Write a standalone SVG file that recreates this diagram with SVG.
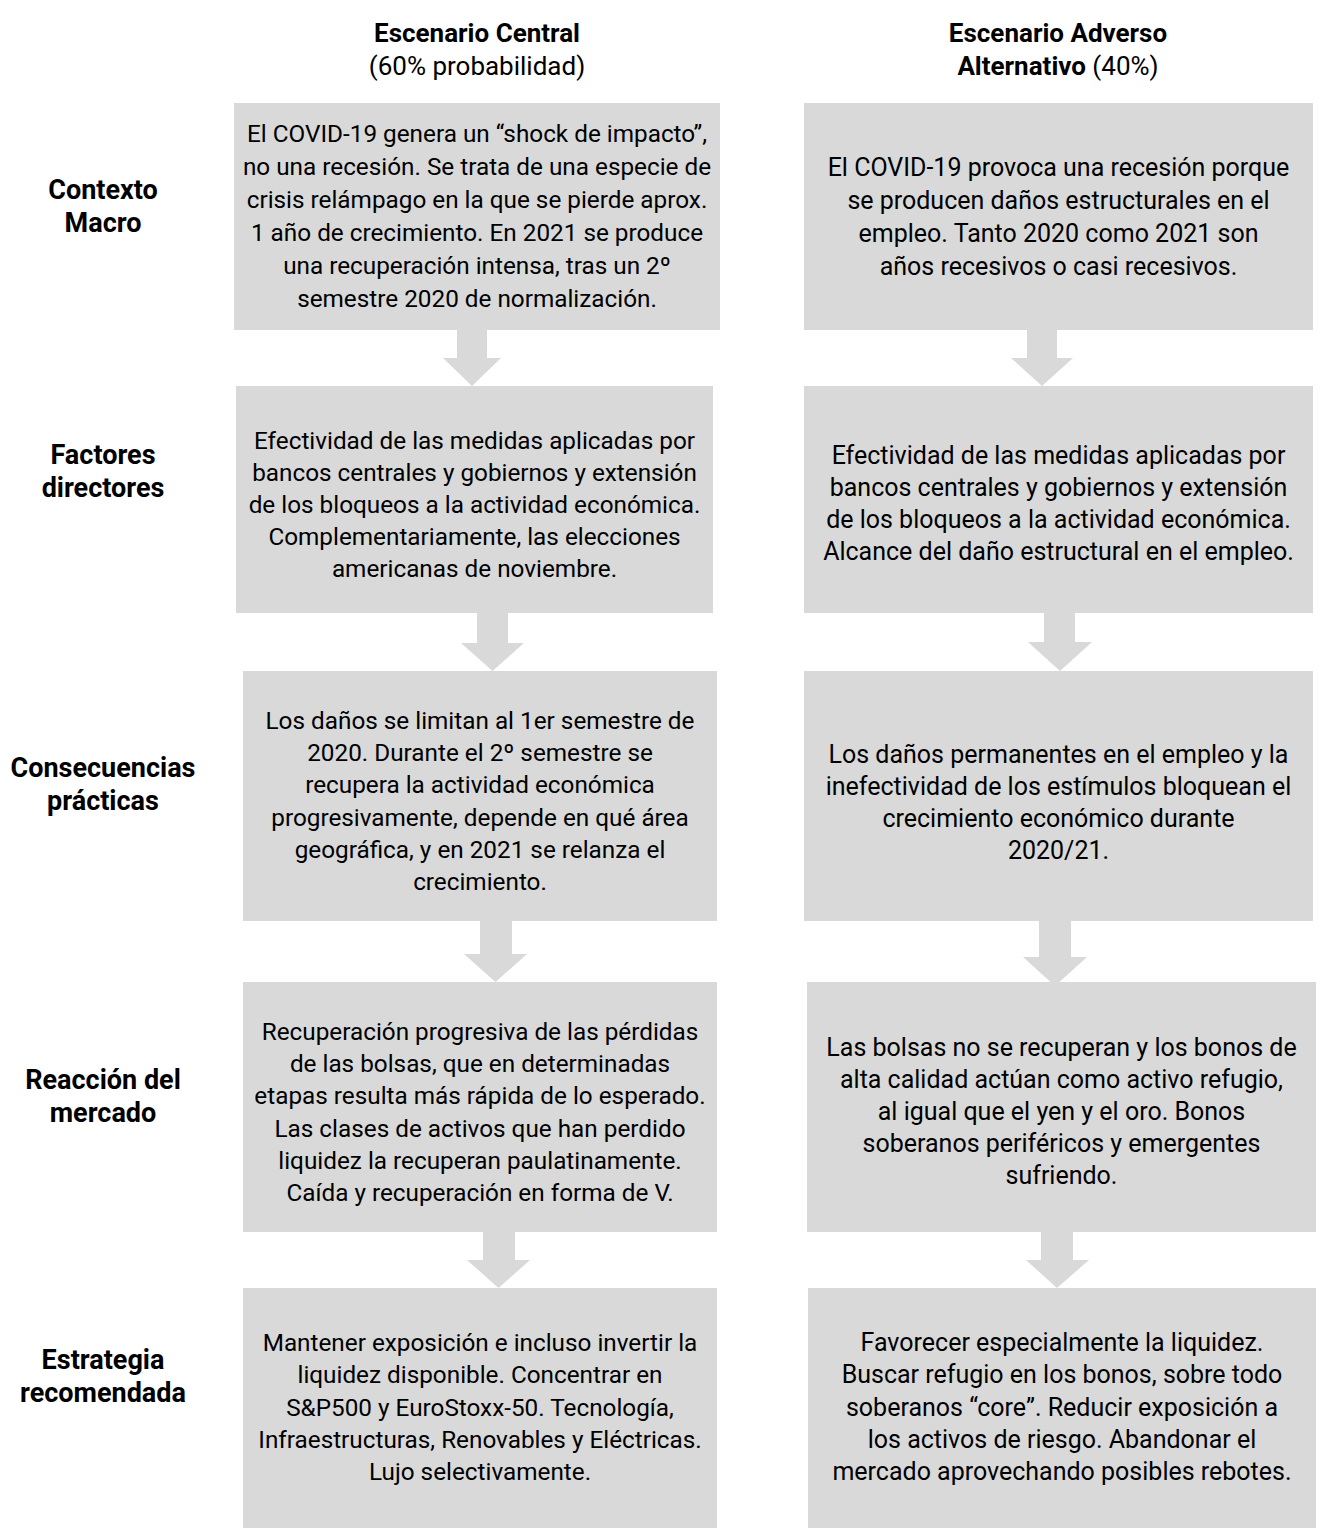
<svg xmlns="http://www.w3.org/2000/svg" width="1327" height="1528" viewBox="0 0 1327 1528">
<style>
.box{fill:#D9D9D9}
.arr{fill:#D9D9D9}
text{font-family:Roboto,"Liberation Sans",sans-serif;fill:#000;text-anchor:middle}
.t{font-size:25px}
.l{font-size:24.3px}
.h{font-size:26px;font-weight:bold}
.hr{font-size:26px}
.lab{font-size:27px;font-weight:bold}
</style>
<rect width="1327" height="1528" fill="#fff"/>
<g id="header-central">
<text class="h" x="477" y="42">Escenario Central</text>
<text class="hr" x="477" y="75">(60% probabilidad)</text>
</g>
<g id="header-adverso">
<text class="h" x="1058" y="42">Escenario Adverso</text>
<text class="hr" x="1058" y="75"><tspan font-weight="bold">Alternativo</tspan> (40%)</text>
</g>
<g id="labels">
<g id="lab-contexto"><text class="lab" x="103" y="199">Contexto</text><text class="lab" x="103" y="232">Macro</text></g>
<g id="lab-factores"><text class="lab" x="103" y="464">Factores</text><text class="lab" x="103" y="497">directores</text></g>
<g id="lab-consecuencias"><text class="lab" x="103" y="777">Consecuencias</text><text class="lab" x="103" y="810">prácticas</text></g>
<g id="lab-reaccion"><text class="lab" x="103" y="1089">Reacción del</text><text class="lab" x="103" y="1122">mercado</text></g>
<g id="lab-estrategia"><text class="lab" x="103" y="1369">Estrategia</text><text class="lab" x="103" y="1402">recomendada</text></g>
</g>
<g id="connectors">
<polygon class="arr" points="457,330 487,330 487,358 501,358 472,386 443,358 457,358"/>
<polygon class="arr" points="477,613 508,613 508,643 524,643 492.5,671 461,643 477,643"/>
<polygon class="arr" points="480,921 512,921 512,954 527,954 495.5,982 464,954 480,954"/>
<polygon class="arr" points="483,1232 515,1232 515,1260 530,1260 498.5,1288 467,1260 483,1260"/>
<polygon class="arr" points="1027,330 1057,330 1057,358 1073,358 1042,386 1011,358 1027,358"/>
<polygon class="arr" points="1044,613 1075,613 1075,642 1092,642 1060,671 1028,642 1044,642"/>
<polygon class="arr" points="1039,921 1071,921 1071,957 1087,957 1055,986 1023,957 1039,957"/>
<polygon class="arr" points="1041,1232 1073,1232 1073,1260 1089,1260 1057,1288 1026,1260 1041,1260"/>
</g>
<g id="c1">
<rect class="box" x="234" y="103" width="486" height="227"/>
<text class="t l" x="477" y="142">El COVID-19 genera un “shock de impacto”,</text>
<text class="t l" x="477" y="175">no una recesión. Se trata de una especie de</text>
<text class="t l" x="477" y="208">crisis relámpago en la que se pierde aprox.</text>
<text class="t l" x="477" y="241">1 año de crecimiento. En 2021 se produce</text>
<text class="t l" x="477" y="274">una recuperación intensa, tras un 2º</text>
<text class="t l" x="477" y="307">semestre 2020 de normalización.</text>
</g>
<g id="a1">
<rect class="box" x="804" y="103" width="509" height="227"/>
<text class="t" x="1058.5" y="176">El COVID-19 provoca una recesión porque</text>
<text class="t" x="1058.5" y="209">se producen daños estructurales en el</text>
<text class="t" x="1058.5" y="242">empleo. Tanto 2020 como 2021 son</text>
<text class="t" x="1058.5" y="275">años recesivos o casi recesivos.</text>
</g>
<g id="c2">
<rect class="box" x="236" y="386" width="477" height="227"/>
<text class="t l" x="474.5" y="449">Efectividad de las medidas aplicadas por</text>
<text class="t l" x="474.5" y="481">bancos centrales y gobiernos y extensión</text>
<text class="t l" x="474.5" y="513">de los bloqueos a la actividad económica.</text>
<text class="t l" x="474.5" y="545">Complementariamente, las elecciones</text>
<text class="t l" x="474.5" y="577">americanas de noviembre.</text>
</g>
<g id="a2">
<rect class="box" x="804" y="386" width="509" height="227"/>
<text class="t" x="1058.5" y="464">Efectividad de las medidas aplicadas por</text>
<text class="t" x="1058.5" y="496">bancos centrales y gobiernos y extensión</text>
<text class="t" x="1058.5" y="528">de los bloqueos a la actividad económica.</text>
<text class="t" x="1058.5" y="560">Alcance del daño estructural en el empleo.</text>
</g>
<g id="c3">
<rect class="box" x="243" y="671" width="474" height="250"/>
<text class="t l" x="480" y="729">Los daños se limitan al 1er semestre de</text>
<text class="t l" x="480" y="761">2020. Durante el 2º semestre se</text>
<text class="t l" x="480" y="793">recupera la actividad económica</text>
<text class="t l" x="480" y="826">progresivamente, depende en qué área</text>
<text class="t l" x="480" y="858">geográfica, y en 2021 se relanza el</text>
<text class="t l" x="480" y="890">crecimiento.</text>
</g>
<g id="a3">
<rect class="box" x="804" y="671" width="509" height="250"/>
<text class="t" x="1058.5" y="763">Los daños permanentes en el empleo y la</text>
<text class="t" x="1058.5" y="795">inefectividad de los estímulos bloquean el</text>
<text class="t" x="1058.5" y="827">crecimiento económico durante</text>
<text class="t" x="1058.5" y="859">2020/21.</text>
</g>
<g id="c4">
<rect class="box" x="243" y="982" width="474" height="250"/>
<text class="t l" x="480" y="1040">Recuperación progresiva de las pérdidas</text>
<text class="t l" x="480" y="1072">de las bolsas, que en determinadas</text>
<text class="t l" x="480" y="1104">etapas resulta más rápida de lo esperado.</text>
<text class="t l" x="480" y="1137">Las clases de activos que han perdido</text>
<text class="t l" x="480" y="1169">liquidez la recuperan paulatinamente.</text>
<text class="t l" x="480" y="1201">Caída y recuperación en forma de V.</text>
</g>
<g id="a4">
<rect class="box" x="807" y="982" width="509" height="250"/>
<text class="t" x="1061.5" y="1056">Las bolsas no se recuperan y los bonos de</text>
<text class="t" x="1061.5" y="1088">alta calidad actúan como activo refugio,</text>
<text class="t" x="1061.5" y="1120">al igual que el yen y el oro. Bonos</text>
<text class="t" x="1061.5" y="1152">soberanos periféricos y emergentes</text>
<text class="t" x="1061.5" y="1184">sufriendo.</text>
</g>
<g id="c5">
<rect class="box" x="243" y="1288" width="474" height="240"/>
<text class="t l" x="480" y="1351">Mantener exposición e incluso invertir la</text>
<text class="t l" x="480" y="1383">liquidez disponible. Concentrar en</text>
<text class="t l" x="480" y="1416">S&amp;P500 y EuroStoxx-50. Tecnología,</text>
<text class="t l" x="480" y="1448">Infraestructuras, Renovables y Eléctricas.</text>
<text class="t l" x="480" y="1480">Lujo selectivamente.</text>
</g>
<g id="a5">
<rect class="box" x="808" y="1288" width="508" height="240"/>
<text class="t" x="1062" y="1351">Favorecer especialmente la liquidez.</text>
<text class="t" x="1062" y="1383">Buscar refugio en los bonos, sobre todo</text>
<text class="t" x="1062" y="1416">soberanos “core”. Reducir exposición a</text>
<text class="t" x="1062" y="1448">los activos de riesgo. Abandonar el</text>
<text class="t" x="1062" y="1480">mercado aprovechando posibles rebotes.</text>
</g>
</svg>
